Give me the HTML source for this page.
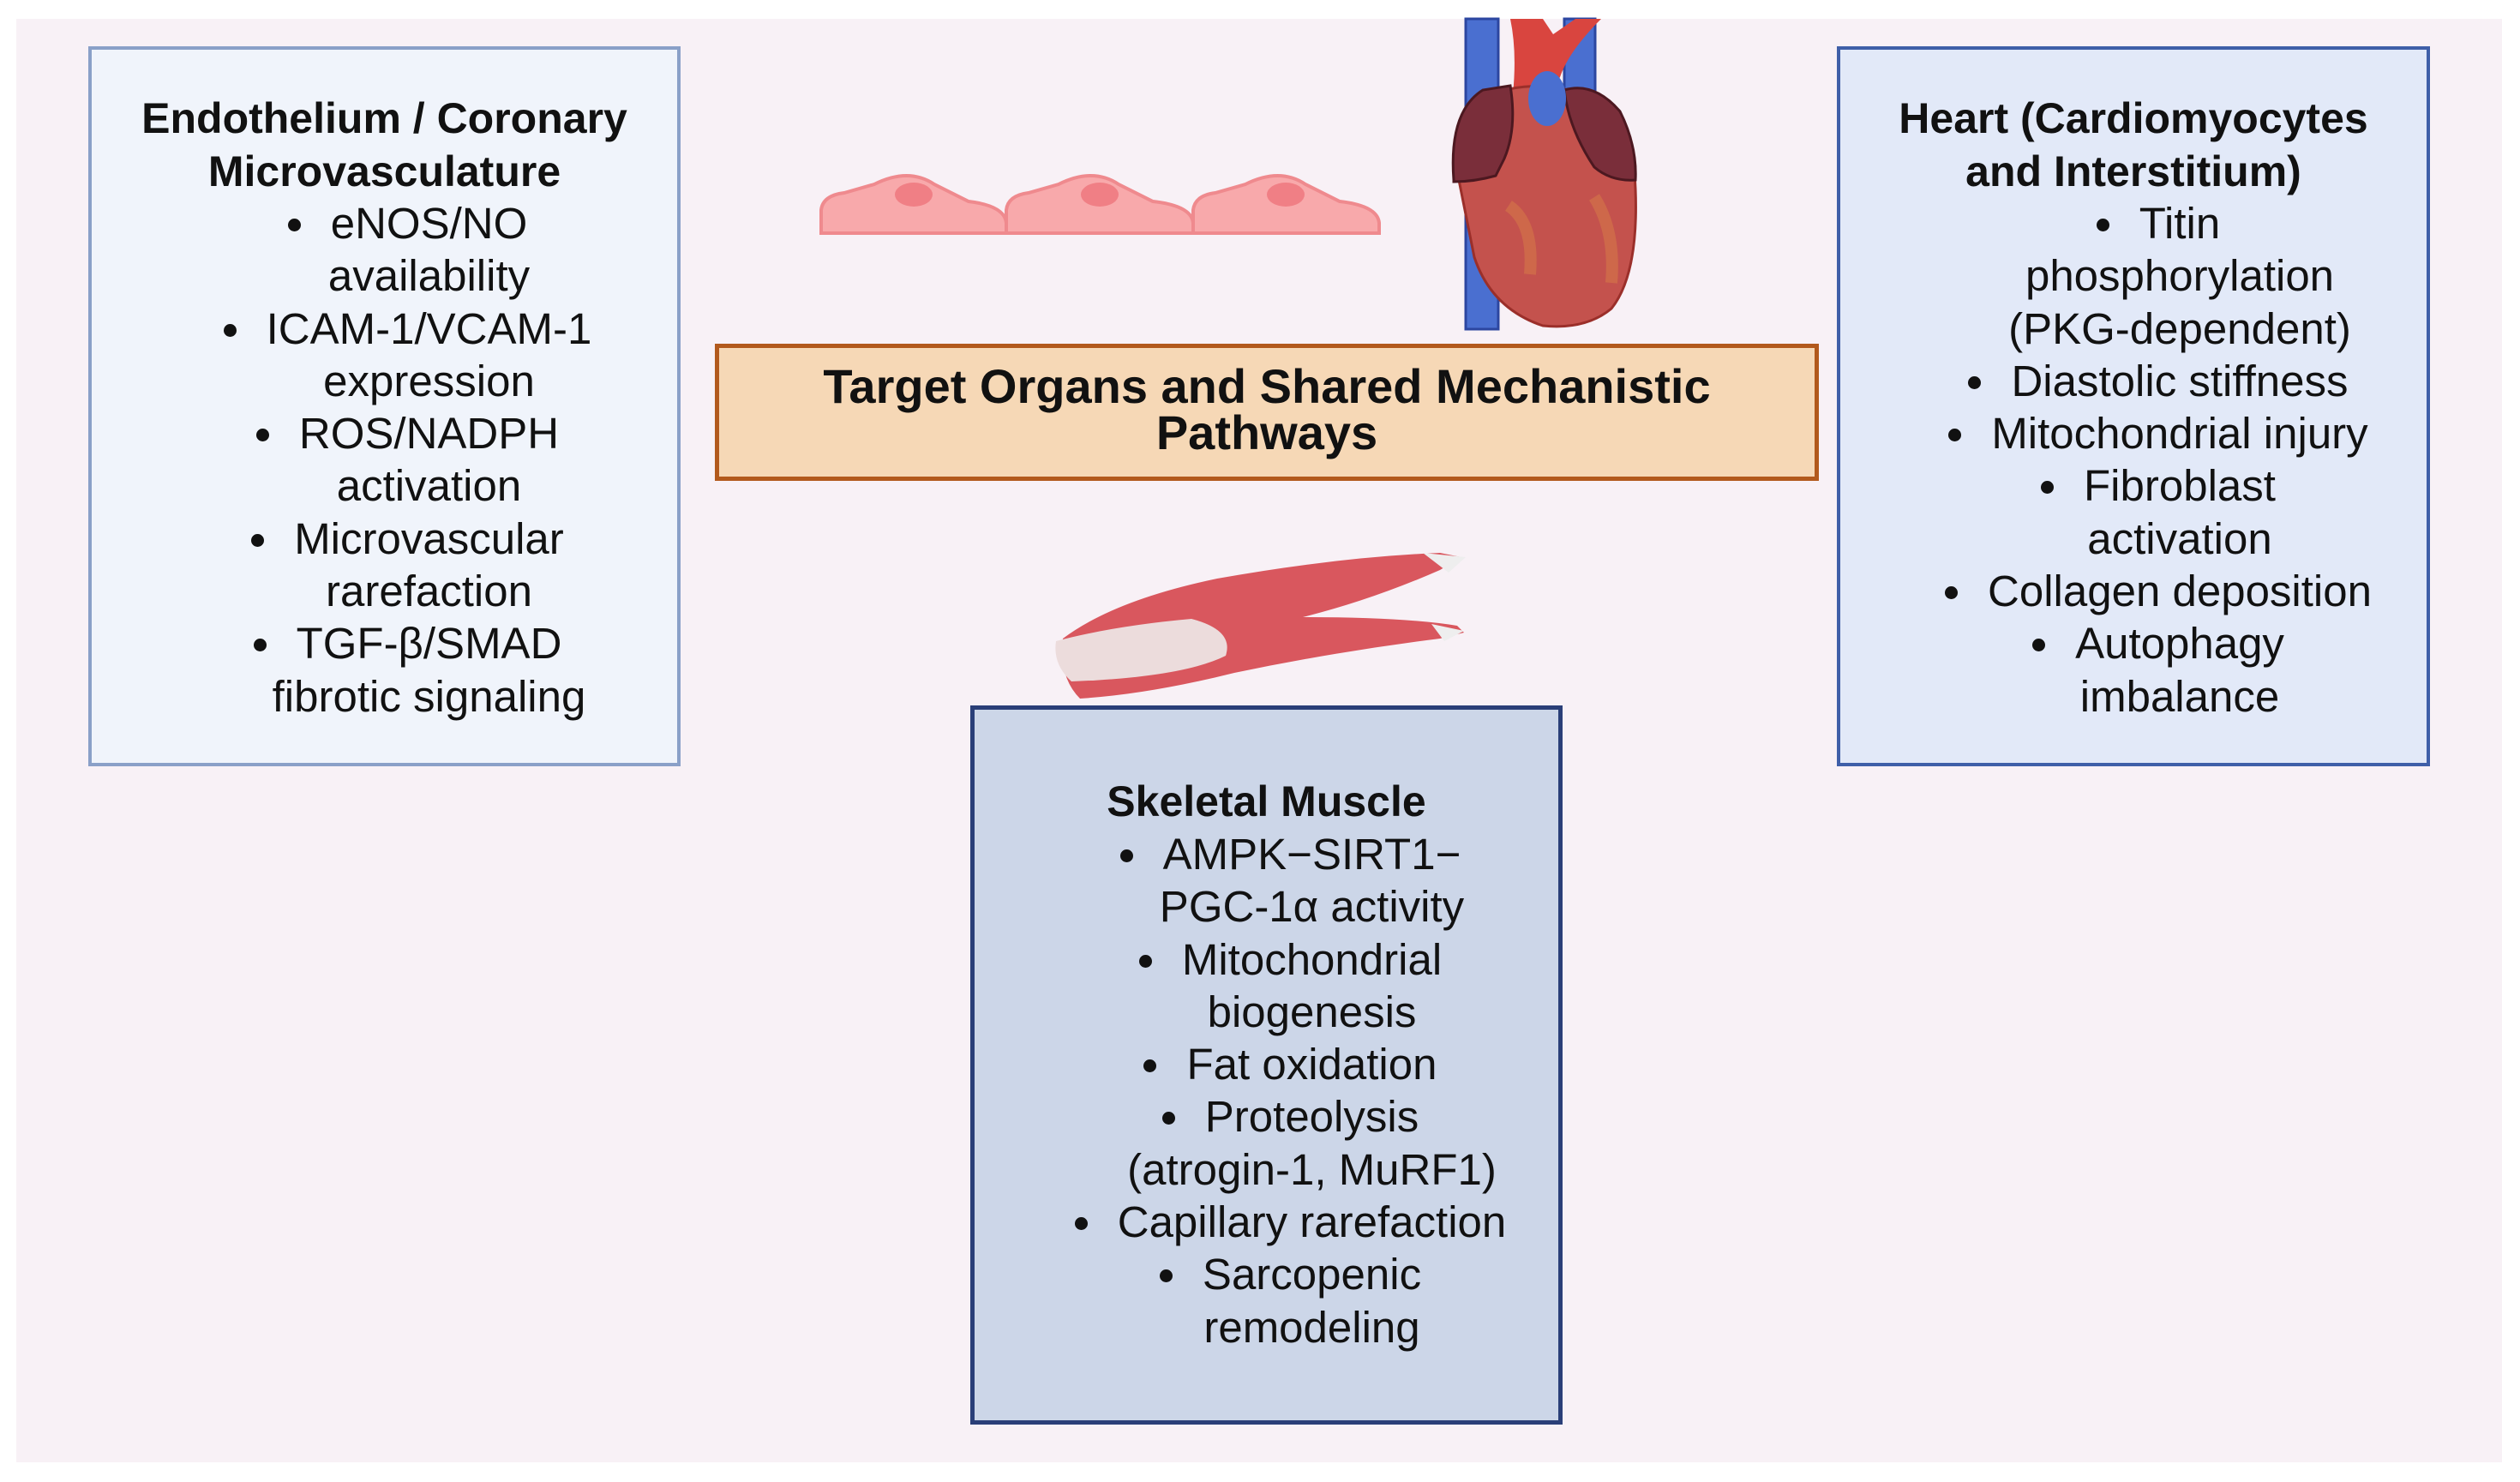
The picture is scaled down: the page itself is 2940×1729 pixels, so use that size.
<!DOCTYPE html>
<html><head><meta charset="utf-8"><style>
html,body{margin:0;padding:0;background:#fff}
#c{position:relative;width:2940px;height:1729px;overflow:hidden;background:#fff;font-family:"Liberation Sans",sans-serif;color:#111}
#bg{position:absolute;left:19px;top:22px;width:2900px;height:1684px;background:#f8f1f6}
.box{position:absolute;box-sizing:border-box}
.t{position:absolute;text-align:center;font-size:51px;line-height:61.3px;white-space:nowrap}
.t b{font-weight:bold;font-size:50px}
.l{display:block}
.bl{position:relative;display:inline-block}
.bl:before{content:"";position:absolute;left:-50px;top:25px;width:15px;height:15px;border-radius:50%;background:#111}
svg{position:absolute;left:0;top:0}
</style></head><body><div id="c">
<div id="bg"></div>
<svg width="2940" height="1729">
 <g fill="#f8a9ab" stroke="#ef8a8e" stroke-width="4">
  <path d="M958 272 L958 245 Q960 228 985 225 L1020 215 Q1060 195 1090 215 L1130 235 Q1172 240 1174 260 L1174 272 Z"/>
  <path d="M1174 272 L1174 245 Q1176 228 1200 225 L1235 215 Q1275 195 1305 215 L1345 235 Q1390 240 1392 260 L1392 272 Z"/>
  <path d="M1392 272 L1392 245 Q1394 228 1418 225 L1453 215 Q1493 195 1523 215 L1563 235 Q1607 240 1609 260 L1609 272 Z"/>
 </g>
 <g fill="#f07f85"><ellipse cx="1066" cy="227" rx="22" ry="14"/><ellipse cx="1283" cy="227" rx="22" ry="14"/><ellipse cx="1500" cy="227" rx="22" ry="14"/></g>
 <rect x="1710" y="22" width="38" height="362" fill="#4a6fd0" stroke="#2c46a0" stroke-width="3"/>
 <rect x="1825" y="22" width="36" height="110" fill="#4a6fd0" stroke="#2c46a0" stroke-width="3"/>
 <path d="M1762 22 L1800 22 L1812 40 L1838 22 L1868 22 Q1830 60 1820 90 L1808 110 L1765 110 Q1770 60 1762 22Z" fill="#d9453f"/>
 <path d="M1700 200 Q1688 140 1740 110 Q1790 92 1840 108 Q1905 130 1908 220 Q1912 320 1880 360 Q1850 385 1800 380 Q1740 360 1720 300 Z" fill="#c4524d" stroke="#9b2f2a" stroke-width="3"/>
 <path d="M1696 210 Q1690 130 1730 105 L1762 100 Q1770 150 1755 185 L1745 205 Q1720 212 1696 212Z" fill="#7a2e3a" stroke="#4c1820" stroke-width="3"/>
 <path d="M1825 105 Q1860 95 1890 130 Q1910 170 1908 210 Q1880 212 1860 195 Q1830 150 1825 105Z" fill="#7a2e3a" stroke="#4c1820" stroke-width="3"/>
 <ellipse cx="1805" cy="115" rx="22" ry="32" fill="#4a6fd0"/>
 <path d="M1760 240 Q1790 260 1785 320 M1860 230 Q1885 270 1880 330" stroke="#d6784a" stroke-width="14" fill="none" opacity="0.6"/>
 <path d="M1240 745 Q1300 700 1420 675 Q1560 650 1680 645 L1705 650 L1680 665 Q1600 700 1520 720 Q1640 720 1700 730 L1708 738 L1680 745 Q1560 760 1440 785 Q1340 810 1260 815 Q1235 790 1240 745Z" fill="#d9575e"/>
 <path d="M1232 748 Q1300 730 1390 722 Q1440 735 1430 765 Q1380 790 1250 795 Q1228 775 1232 748Z" fill="#ecdcdc"/>
 <path d="M1660 645 L1710 650 L1690 668 Z M1670 728 L1708 736 L1685 748 Z" fill="#eee"/>
</svg>
<div class="box" style="left:103px;top:54px;width:691px;height:840px;background:#f0f4fb;border:4px solid #8aa0c8"></div>
<div class="box" style="left:2143px;top:54px;width:692px;height:840px;background:#e2e9f8;border:4px solid #3f5fa8"></div>
<div class="box" style="left:1132px;top:823px;width:691px;height:839px;background:#ccd6e8;border:5px solid #2a3f78"></div>
<div class="box" style="left:834px;top:401px;width:1288px;height:160px;background:#f6d8b6;border:5px solid #b2591c"></div>
<div class="t" style="left:834px;top:425px;width:1288px;line-height:52px"><b style="font-size:56px">Target Organs and Shared Mechanistic<br>Pathways</b></div>

<div class="t" style="left:103px;top:107px;width:691px">
<span class="l"><b>Endothelium / Coronary</b></span><span class="l"><b>Microvasculature</b></span>
</div>
<div class="t" style="left:155px;top:230px;width:691px">
<span class="l"><span class="bl">eNOS/NO</span></span><span class="l">availability</span>
<span class="l"><span class="bl">ICAM-1/VCAM-1</span></span><span class="l">expression</span>
<span class="l"><span class="bl">ROS/NADPH</span></span><span class="l">activation</span>
<span class="l"><span class="bl">Microvascular</span></span><span class="l">rarefaction</span>
<span class="l"><span class="bl">TGF-β/SMAD</span></span><span class="l">fibrotic signaling</span>
</div>

<div class="t" style="left:2143px;top:107px;width:692px">
<span class="l"><b>Heart (Cardiomyocytes</b></span><span class="l"><b>and Interstitium)</b></span>
</div>
<div class="t" style="left:2197px;top:230px;width:692px">
<span class="l"><span class="bl">Titin</span></span><span class="l">phosphorylation</span><span class="l">(PKG-dependent)</span>
<span class="l"><span class="bl">Diastolic stiffness</span></span>
<span class="l"><span class="bl">Mitochondrial injury</span></span>
<span class="l"><span class="bl">Fibroblast</span></span><span class="l">activation</span>
<span class="l"><span class="bl">Collagen deposition</span></span>
<span class="l"><span class="bl">Autophagy</span></span><span class="l">imbalance</span>
</div>

<div class="t" style="left:1132px;top:904px;width:691px">
<span class="l"><b>Skeletal Muscle</b></span>
</div>
<div class="t" style="left:1185px;top:966px;width:691px">
<span class="l"><span class="bl">AMPK−SIRT1−</span></span><span class="l">PGC-1α activity</span>
<span class="l"><span class="bl">Mitochondrial</span></span><span class="l">biogenesis</span>
<span class="l"><span class="bl">Fat oxidation</span></span>
<span class="l"><span class="bl">Proteolysis</span></span><span class="l">(atrogin-1, MuRF1)</span>
<span class="l"><span class="bl">Capillary rarefaction</span></span>
<span class="l"><span class="bl">Sarcopenic</span></span><span class="l">remodeling</span>
</div>
</div></body></html>
